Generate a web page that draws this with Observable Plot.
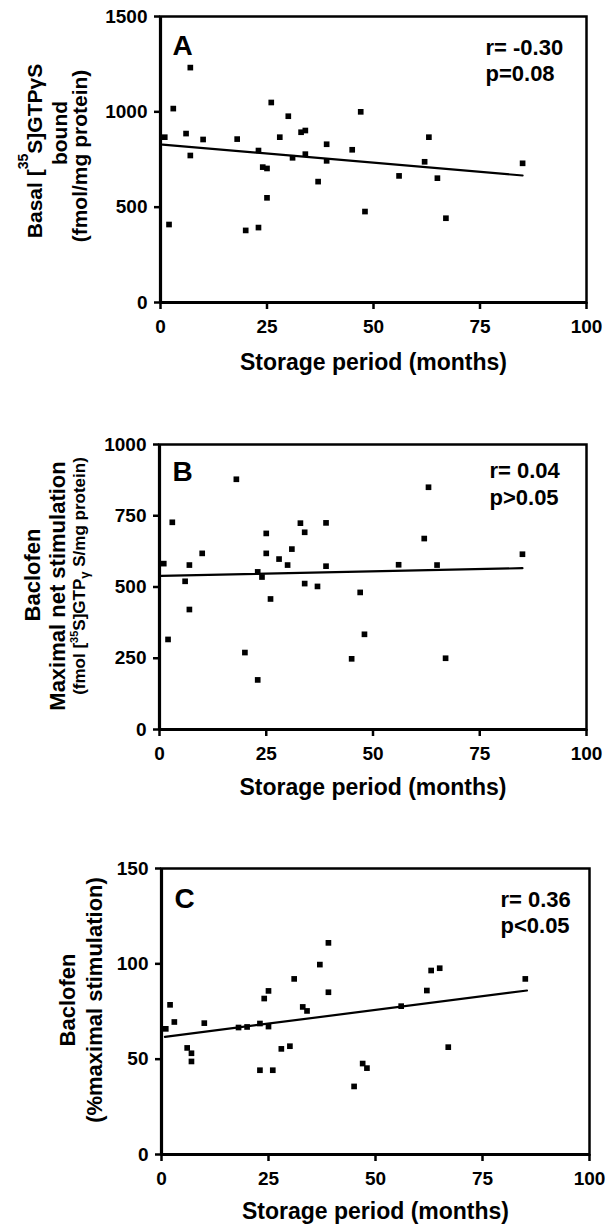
<!DOCTYPE html>
<html><head><meta charset="utf-8">
<script src="https://cdn.jsdelivr.net/npm/d3@7"></script>
<script src="https://cdn.jsdelivr.net/npm/@observablehq/plot@0.6"></script>
<style>
body{margin:0;background:#fff;}
#chart svg{display:block;}
</style>
</head><body><div id="chart"></div>
<script>
// ---- Data ----
const xTicks = [0, 25, 50, 75, 100];

// Panel A: basal [35S]GTPgS bound (fmol/mg protein)
const monthsA = [1,2,3,7,6,7,10,18,20,23,23,24,25,25,26,28,30,31,33,34,34,37,39,39,45,47,48,56,62,63,65,67,85];
const basalA  = [867,409,1017,1232,886,771,855,857,378,393,797,710,703,549,1049,867,977,759,893,902,778,634,830,743,801,1000,477,664,738,867,652,442,730];
const fitMonthsA = [0.5, 85];
const fitA = [828, 666];
const yTicksA = [0, 500, 1000, 1500];

// Panel B: baclofen maximal net stimulation
const monthsB = [1,2,3,6,7,7,10,18,20,23,23,24,25,25,26,28,30,31,33,34,34,37,39,39,45,47,48,56,62,63,65,67,85];
const netB    = [582,316,727,520,577,421,618,878,270,174,553,535,688,618,458,598,577,633,724,692,512,502,725,573,248,481,334,578,670,850,577,250,615];
const fitMonthsB = [0.4, 85];
const fitB = [539, 566];
const yTicksB = [0, 250, 500, 750, 1000];

// Panel C: baclofen % maximal stimulation
const monthsC = [1,2,3,6,7,7,10,18,20,23,23,24,25,25,26,28,30,31,33,34,37,39,39,45,47,48,56,62,63,65,67,85];
const pctC    = [65.9,78.5,69.5,55.9,53.1,48.8,68.9,66.6,66.9,68.7,44.2,81.8,85.8,67.1,44.2,55.4,56.8,92.1,77.4,75.3,99.6,111.0,85.1,35.7,47.7,45.3,77.8,86.0,96.5,97.7,56.3,92.1];
const fitMonthsC = [0.8, 85.4];
const fitC = [61.7, 86.0];
const yTicksC = [0, 50, 100, 150];

const xTitle = "Storage period (months)";
const font = "'Liberation Sans', Arial, Helvetica, sans-serif";

function makePanel(cfg) {
  const data = cfg.months.map((m, i) => ({m, v: cfg.values[i]}));
  const fit = cfg.fitX.map((m, i) => ({m, v: cfg.fitY[i]}));
  const fmt = d => String(d);
  const svg = Plot.plot({
    width: 607, height: cfg.height,
    marginLeft: cfg.ml, marginRight: cfg.mr, marginTop: cfg.mt, marginBottom: cfg.mb,
    style: {fontFamily: font, fontSize: "19px", fontWeight: "bold", color: "black", background: "white", overflow: "visible"},
    x: {domain: [0, 100], label: null},
    y: {domain: cfg.yDomain, label: null},
    marks: [
      Plot.axisX({ticks: xTicks, tickFormat: fmt, tickSize: 7, tickPadding: 10, strokeWidth: 2.5, label: null}),
      Plot.axisY({ticks: cfg.yTicks, tickFormat: fmt, tickSize: 6, tickPadding: 7, strokeWidth: 2.5, label: null}),
      Plot.frame({strokeWidth: 2.5}),
      Plot.ruleX([0], {strokeWidth: 3.2}),
      Plot.ruleY([0], {strokeWidth: 3.2}),
      Plot.line(fit, {x: "m", y: "v", strokeWidth: 2.2, stroke: "black"}),
      Plot.dot(data, {x: "m", y: "v", symbol: "square", fill: "black", r: 3.2}),
      Plot.text([cfg.letter], {frameAnchor: "top-left", textAnchor: "start", lineAnchor: "middle", dx: cfg.letterDx, dy: cfg.letterDy, fontSize: 28, fontWeight: "bold"}),
      Plot.text([cfg.r], {frameAnchor: "top-right", textAnchor: "start", lineAnchor: "middle", dx: cfg.statDx, dy: cfg.rDy, fontSize: 22, fontWeight: "bold"}),
      Plot.text([cfg.p], {frameAnchor: "top-right", textAnchor: "start", lineAnchor: "middle", dx: cfg.statDx, dy: cfg.pDy, fontSize: 22, fontWeight: "bold"}),
      Plot.text([xTitle], {frameAnchor: "bottom", lineAnchor: "middle", dy: cfg.titleDy, fontSize: 23, fontWeight: "bold"})
    ]
  });
  // rotated y-axis title lines (rich text with super/subscripts)
  const s = d3.select(svg);
  cfg.labels.forEach(L => {
    const t = s.append("text")
      .attr("transform", `translate(${L.x},${L.y}) rotate(-90)`)
      .attr("text-anchor", "middle")
      .attr("font-family", font)
      .attr("font-weight", "bold")
      .attr("font-size", L.size)
      .attr("fill", "black");
    L.parts.forEach(part => {
      const ts = t.append("tspan").text(part.t);
      if (part.sup) ts.attr("font-size", part.fs).attr("baseline-shift", part.sup);
    });
  });
  return svg;
}

const root = document.getElementById("chart");

root.appendChild(makePanel({
  months: monthsA, values: basalA, fitX: fitMonthsA, fitY: fitA,
  yDomain: [0, 1500], yTicks: yTicksA,
  height: 400, ml: 160, mr: 21, mt: 16, mb: 98,
  letter: "A", letterDx: 12, letterDy: 30,
  r: "r= -0.30", p: "p=0.08", statDx: -101, rDy: 31, pDy: 57,
  titleDy: 60,
  labels: [
    {x: 42, y: 151, size: 21, parts: [{t: "Basal ["}, {t: "35", sup: "14px", fs: 14}, {t: "S]GTPγS"}]},
    {x: 67, y: 133, size: 21, parts: [{t: "bound"}]},
    {x: 87, y: 156, size: 21, parts: [{t: "(fmol/mg protein)"}]}
  ]
}));

root.appendChild(makePanel({
  months: monthsB, values: netB, fitX: fitMonthsB, fitY: fitB,
  yDomain: [0, 1000], yTicks: yTicksB,
  height: 400, ml: 159, mr: 21, mt: 44, mb: 71,
  letter: "B", letterDx: 13, letterDy: 28,
  r: "r= 0.04", p: "p>0.05", statDx: -97, rDy: 26, pDy: 53,
  titleDy: 58,
  labels: [
    {x: 40, y: 175, size: 22, parts: [{t: "Baclofen"}]},
    {x: 65, y: 186, size: 22, parts: [{t: "Maximal net stimulation"}]},
    {x: 85, y: 176, size: 17, parts: [{t: "(fmol ["}, {t: "35", sup: "7px", fs: 11}, {t: "S]GTP"}, {t: "γ", sup: "-4px", fs: 13}, {t: " S/mg protein)"}]}
  ]
}));

root.appendChild(makePanel({
  months: monthsC, values: pctC, fitX: fitMonthsC, fitY: fitC,
  yDomain: [0, 150], yTicks: yTicksC,
  height: 429, ml: 161, mr: 18, mt: 68, mb: 75,
  letter: "C", letterDx: 13, letterDy: 31,
  r: "r= 0.36", p: "p<0.05", statDx: -89, rDy: 31, pDy: 57,
  titleDy: 57,
  labels: [
    {x: 75, y: 200, size: 22, parts: [{t: "Baclofen"}]},
    {x: 102, y: 200, size: 22, parts: [{t: "(%maximal stimulation)"}]}
  ]
}));
</script>
</body></html>
